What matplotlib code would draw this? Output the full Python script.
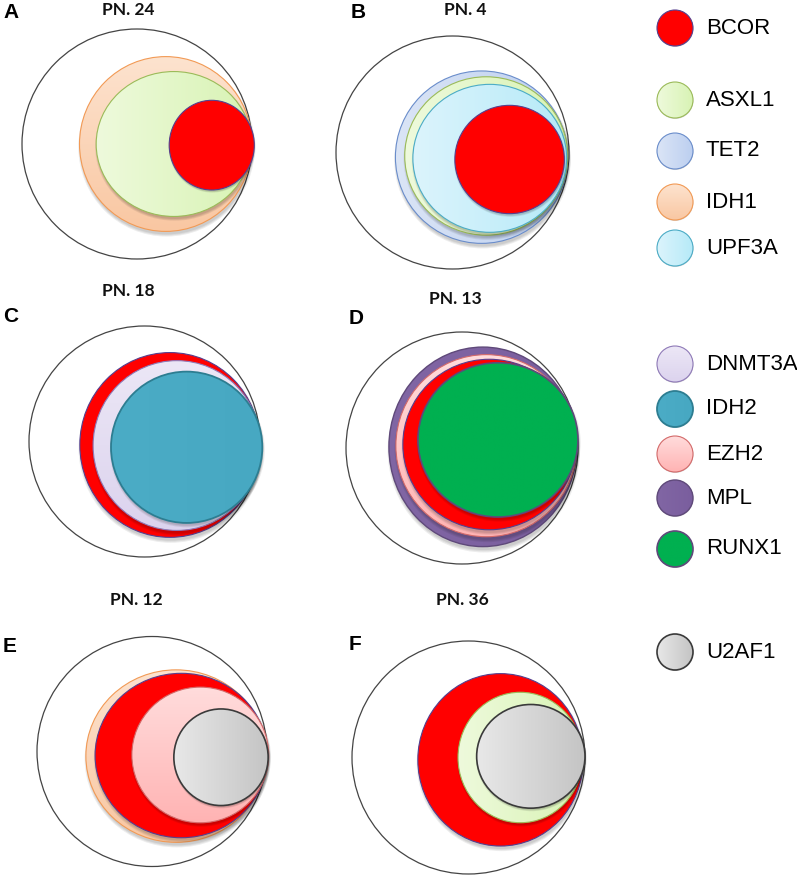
import matplotlib
matplotlib.use('Agg')
import matplotlib.pyplot as plt
import numpy as np
from matplotlib.colors import LinearSegmentedColormap
from matplotlib.patches import Ellipse

W, H = 797, 877

# gene -> (light fill, deep fill, edge, gradient direction)
gene_style = {
    'BCOR':   ('#ff0000', '#ff0000', '#55408f', 'h'),
    'ASXL1':  ('#eefadc', '#d8f3b4', '#9bbb59', 'h'),
    'TET2':   ('#dbe5f6', '#bccff0', '#6a8dcb', 'h'),
    'IDH1':   ('#fde3cf', '#f9c7a2', '#f29a55', 'v'),
    'UPF3A':  ('#dcf4fc', '#b6eaf8', '#4bacc6', 'h'),
    'DNMT3A': ('#ece7f6', '#dcd3ee', '#8f7ab8', 'v'),
    'IDH2':   ('#4bacc6', '#47a8c2', '#2d7d91', 'h'),
    'EZH2':   ('#ffdcdc', '#ffb3b3', '#d46a6a', 'v'),
    'MPL':    ('#8166a4', '#7a5e9e', '#5f497a', 'h'),
    'RUNX1':  ('#00b050', '#00b050', '#5f497a', 'h'),
    'U2AF1':  ('#e8e8e8', '#c4c4c4', '#3a3a3a', 'h'),
}
edge_width = {'IDH2': 1.3, 'U2AF1': 1.2, 'RUNX1': 1.2, 'MPL': 1.0}

legend_genes = ['BCOR', 'ASXL1', 'TET2', 'IDH1', 'UPF3A',
                'DNMT3A', 'IDH2', 'EZH2', 'MPL', 'RUNX1', 'U2AF1']

# clone bubbles per patient, back to front; centre offsets and radii are
# relative to the patient's outer circle (radius 1)
a_genes = ['IDH1', 'ASXL1', 'BCOR']
a_dx = [0.25, 0.32, 0.65]
a_dy = [0.0, 0.0, -0.01]
a_rx = [0.75, 0.675, 0.37]
a_ry = [0.76, 0.63, 0.39]

b_genes = ['TET2', 'ASXL1', 'UPF3A', 'BCOR']
b_dx = [0.25, 0.29, 0.32, 0.49]
b_dy = [-0.04, -0.03, -0.05, -0.06]
b_rx = [0.74, 0.70, 0.66, 0.47]
b_ry = [0.74, 0.68, 0.635, 0.465]

c_genes = ['BCOR', 'DNMT3A', 'IDH2']
c_dx = [0.22, 0.28, 0.365]
c_dy = [-0.03, -0.035, -0.05]
c_rx = [0.78, 0.725, 0.655]
c_ry = [0.80, 0.735, 0.655]

d_genes = ['MPL', 'EZH2', 'BCOR', 'RUNX1']
d_dx = [0.18, 0.21, 0.235, 0.31]
d_dy = [0.01, 0.02, 0.03, 0.07]
d_rx = [0.81, 0.78, 0.745, 0.69]
d_ry = [0.86, 0.785, 0.735, 0.665]

e_genes = ['IDH1', 'BCOR', 'EZH2', 'U2AF1']
e_dx = [0.21, 0.255, 0.42, 0.60]
e_dy = [-0.04, -0.035, -0.03, -0.05]
e_rx = [0.785, 0.75, 0.595, 0.41]
e_ry = [0.75, 0.715, 0.59, 0.42]

f_genes = ['BCOR', 'ASXL1', 'U2AF1']
f_dx = [0.275, 0.445, 0.535]
f_dy = [-0.02, 0.0, 0.01]
f_rx = [0.71, 0.535, 0.465]
f_ry = [0.74, 0.56, 0.445]

panels = [
    # letter, title, data, outer circle centre / radius in px, title xy, letter xy
    ('A', 'PN. 24', (a_genes, a_dx, a_dy, a_rx, a_ry), (137, 144, 115), (128, 10), (3, 13)),
    ('B', 'PN. 4', (b_genes, b_dx, b_dy, b_rx, b_ry), (452.5, 152.5, 116.5), (465, 10), (351, 13)),
    ('C', 'PN. 18', (c_genes, c_dx, c_dy, c_rx, c_ry), (144.5, 441.5, 115.5), (128, 291), (3, 317)),
    ('D', 'PN. 13', (d_genes, d_dx, d_dy, d_rx, d_ry), (462, 448, 116), (455, 299), (349, 318)),
    ('E', 'PN. 12', (e_genes, e_dx, e_dy, e_rx, e_ry), (152, 751.5, 115), (136, 600), (3, 647)),
    ('F', 'PN. 36', (f_genes, f_dx, f_dy, f_rx, f_ry), (468.5, 757.5, 116.5), (462, 600), (349, 645)),
]


def blob(ax, x, y, rx, ry, gene, z):
    light, deep, edge, direction = gene_style[gene]
    # soft drop shadow
    for k in range(3):
        grow = 1 + 0.012 * k
        ax.add_patch(Ellipse((x + 0.01 * rx, y - 0.035 * ry), 2 * rx * grow, 2 * ry * grow,
                             color='k', alpha=0.07, lw=0, zorder=z))
    body = Ellipse((x, y), 2 * rx, 2 * ry, facecolor='none', edgecolor='none', zorder=z + 1)
    ax.add_patch(body)
    cmap = LinearSegmentedColormap.from_list(gene, [light, deep])
    grad = np.linspace(0, 1, 256)
    img = grad[None, :] if direction == 'h' else grad[::-1][:, None]
    im = ax.imshow(img, cmap=cmap, extent=(x - rx, x + rx, y - ry, y + ry),
                   origin='lower', aspect='auto', zorder=z + 1, interpolation='bilinear')
    im.set_clip_path(body)
    ax.add_patch(Ellipse((x, y), 2 * rx, 2 * ry, facecolor='none', edgecolor=edge,
                         lw=edge_width.get(gene, 0.8), zorder=z + 2))


fig = plt.figure(figsize=(W / 100, H / 100), dpi=100)
fig.patch.set_facecolor('white')

pad = 1.12
for letter, title, (genes, dx, dy, rx, ry), (cx, cy, R), (tx, ty), (lx, ly) in panels:
    ax = fig.add_axes([(cx - pad * R) / W, 1 - (cy + pad * R) / H,
                       2 * pad * R / W, 2 * pad * R / H])
    ax.add_patch(Ellipse((0, 0), 2, 2, facecolor='white', edgecolor='#444444', lw=0.9, zorder=0))
    for i, g in enumerate(genes):
        blob(ax, dx[i], dy[i], rx[i], ry[i], g, 10 + 5 * i)
    ax.set_xlim(-pad, pad)
    ax.set_ylim(-pad, pad)
    ax.axis('off')
    fig.text(tx / W, 1 - ty / H, title, ha='center', va='center',
             fontsize=12.5, fontweight='bold', family='Lato', color='#111111')
    fig.text(lx / W, 1 - ly / H, letter, ha='left', va='center',
             fontsize=15, fontweight='bold', family='Liberation Sans', color='black')

# legend column
leg = fig.add_axes([0, 0, 1, 1], zorder=-1)
leg.set_xlim(0, W)
leg.set_ylim(0, H)
leg.axis('off')
legend_y = [28, 100, 151, 202, 248, 364, 409, 454, 498, 549, 652]
for i, (g, py) in enumerate(zip(legend_genes, legend_y)):
    blob(leg, 675, H - py, 18, 18, g, 10 + 5 * i)
    leg.text(706, H - py, g, ha='left', va='center', fontsize=16,
             family='Liberation Sans', color='black')
leg.set_xlim(0, W)
leg.set_ylim(0, H)

fig.savefig('out.png', dpi=100, facecolor='white')
